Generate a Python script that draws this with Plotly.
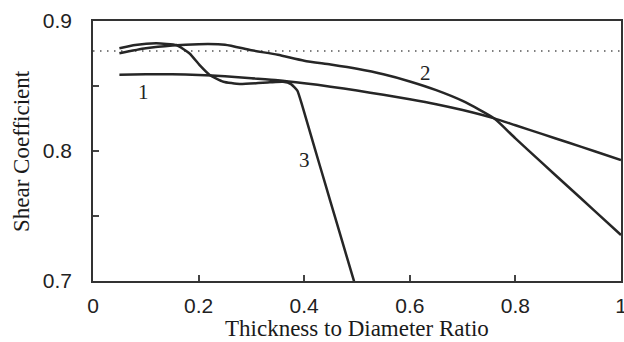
import plotly.graph_objects as go

# Curve 1
x1 = [0.05, 0.10, 0.15, 0.20, 0.25, 0.30, 0.35, 0.40, 0.45, 0.50, 0.55, 0.60, 0.65, 0.70, 0.76, 0.80, 0.85, 0.90, 0.95, 1.00]
y1 = [0.8587, 0.8590, 0.8590, 0.8585, 0.8575, 0.8560, 0.8545, 0.8522, 0.8495, 0.8465, 0.8432, 0.8398, 0.8360, 0.8315, 0.8251, 0.8198, 0.8132, 0.8065, 0.7998, 0.7930]

# Curve 2
x2 = [0.05, 0.10, 0.15, 0.20, 0.25, 0.30, 0.35, 0.40, 0.45, 0.50, 0.55, 0.60, 0.65, 0.70, 0.76, 0.80, 0.85, 0.90, 0.95, 1.00]
y2 = [0.8752, 0.8790, 0.8812, 0.8822, 0.8818, 0.8775, 0.8740, 0.8695, 0.8665, 0.8632, 0.8590, 0.8535, 0.8468, 0.8385, 0.8250, 0.8097, 0.7910, 0.7725, 0.7540, 0.7354]

# Curve 3
x3 = [0.05, 0.08, 0.12, 0.158, 0.183, 0.202, 0.221, 0.247, 0.278, 0.335, 0.360, 0.375, 0.387, 0.397, 0.42, 0.44, 0.46, 0.48, 0.495]
y3 = [0.8790, 0.8815, 0.8828, 0.8815, 0.8750, 0.8660, 0.8585, 0.8533, 0.8515, 0.8528, 0.8532, 0.8515, 0.8465, 0.8340, 0.8020, 0.7745, 0.7470, 0.7195, 0.6990]

# Dotted reference level
ref_level = 0.877
ref_x = [0.0, 1.0]

curve_labels = ["1", "2", "3"]
label_x = [0.095, 0.6295, 0.401]
label_y = [0.8456, 0.8598, 0.7927]

x_title = "Thickness to Diameter Ratio"
y_title = "Shear Coefficient"

x_tickvals = [0, 0.2, 0.4, 0.6, 0.8, 1]
x_ticktext = ["0", "0.2", "0.4", "0.6", "0.8", "1"]
y_tickvals = [0.7, 0.75, 0.8, 0.85, 0.9]
y_ticktext = ["0.7", "", "0.8", "", "0.9"]

line_col = "#262626"

fig = go.Figure()
fig.add_trace(go.Scatter(x=ref_x, y=[ref_level, ref_level], mode="lines",
                         line=dict(color="#555", width=1.5, dash="1.5px,5.5px"),
                         hoverinfo="skip"))
for xs, ys, sm in [(x1, y1, 0.6), (x2, y2, 0.6), (x3, y3, 0.45)]:
    fig.add_trace(go.Scatter(x=xs, y=ys, mode="lines",
                             line=dict(color=line_col, width=2.5, shape="spline", smoothing=sm)))

for t, lx, ly in zip(curve_labels, label_x, label_y):
    fig.add_annotation(x=lx, y=ly, text=t, showarrow=False,
                       font=dict(family="Liberation Serif", size=21, color="#222"))

title_font = dict(family="Liberation Serif", size=23, color="#1a1a1a")
fig.add_annotation(x=0.5, y=0, xref="paper", yref="paper", text=x_title,
                   showarrow=False, xanchor="center", yanchor="bottom",
                   yshift=-61, borderpad=0, font=title_font)
fig.add_annotation(x=0, y=0.5, xref="paper", yref="paper", text=y_title,
                   showarrow=False, xanchor="center", yanchor="middle",
                   xshift=-72, textangle=-90, font=title_font)

axis_common = dict(showline=True, mirror=True, linecolor="#333", linewidth=1.5,
                   ticks="inside", ticklen=6, tickwidth=1.5, tickcolor="#444",
                   showgrid=False, zeroline=False, ticklabeloverflow="allow",
                   automargin=False,
                   tickfont=dict(family="Liberation Sans", size=21, color="#222"))

fig.update_layout(
    width=624, height=342,
    margin=dict(l=93, r=3, t=21, b=61),
    paper_bgcolor="white", plot_bgcolor="white",
    showlegend=False,
    xaxis=dict(range=[0, 1], tickvals=x_tickvals, ticktext=x_ticktext,
               ticklabelstandoff=5, **axis_common),
    yaxis=dict(range=[0.7, 0.9], tickvals=y_tickvals, ticktext=y_ticktext,
               ticklabelstandoff=15, **axis_common),
)

fig.write_html("out.html")
